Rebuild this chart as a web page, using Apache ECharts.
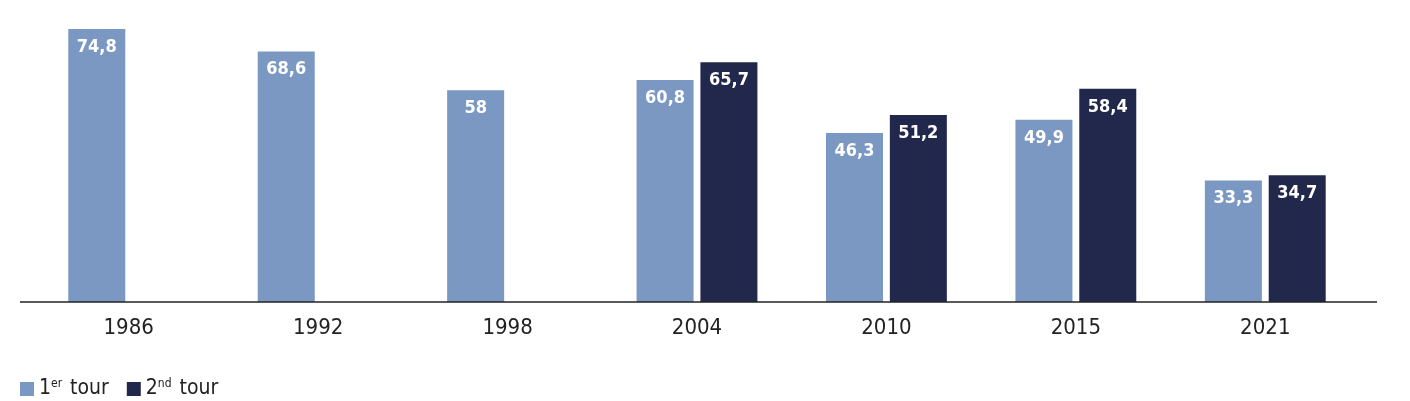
<!DOCTYPE html>
<html><head><meta charset="utf-8">
<script src="https://cdn.jsdelivr.net/npm/echarts@6/dist/echarts.min.js"></script>
<style>html,body{margin:0;padding:0;background:#fff}#c{width:1410px;height:401px}</style>
</head><body><div id="c"></div>
<script>
var years = ['1986','1992','1998','2004','2010','2015','2021'];
var tour1 = [74.8, 68.6, 58, 60.8, 46.3, 49.9, 33.3];
var tour2 = [null, null, null, 65.7, 51.2, 58.4, 34.7];
var seriesNames = ['1er tour', '2nd tour'];
var colors = ['#7a98c1', '#22284b'];

var chart = echarts.init(document.getElementById('c'));
var font = '"DejaVu Sans Condensed", "Liberation Sans Narrow", "Liberation Sans", sans-serif';
function fmt(p){ return String(p.value).replace('.', ','); }
var labelCfg = {show:true, position:'insideTop', distance:9, color:'#fff', fontWeight:'bold', fontSize:18, fontFamily:font, fontStyle:'condensed', formatter:fmt};
chart.setOption({
  animation:false,
  grid:{left:34, right:50, top:10, bottom:99},
  graphic:[{type:'line', shape:{x1:20, y1:302, x2:1377, y2:302}, style:{stroke:'#222', lineWidth:1.3}, z:10}],
  legend:{
    left:15, top:373, itemWidth:14, itemHeight:14, itemGap:18, icon:'rect',
    data:seriesNames,
    formatter:function(n){ return n==='1er tour' ? '1{s|er} tour' : '2{s|nd} tour'; },
    textStyle:{fontFamily:font, fontStyle:'condensed', fontSize:21, color:'#222',
      rich:{s:{fontSize:12, fontFamily:font, fontStyle:'condensed', color:'#222', verticalAlign:'top', padding:[0,2,10,0]}}}
  },
  xAxis:{type:'category', data:years,
    axisLine:{show:false}, axisTick:{show:false},
    axisLabel:{fontFamily:font, fontStyle:'condensed', fontSize:22, color:'#222', margin:15}},
  yAxis:{type:'value', min:0, max:80, show:false, splitLine:{show:false}},
  series:[
    {name:seriesNames[0], type:'bar', data:tour1, barWidth:57, barGap:'12%', itemStyle:{color:colors[0]}, label:labelCfg},
    {name:seriesNames[1], type:'bar', data:tour2, barWidth:57, itemStyle:{color:colors[1]}, label:labelCfg}
  ]
});
</script></body></html>
